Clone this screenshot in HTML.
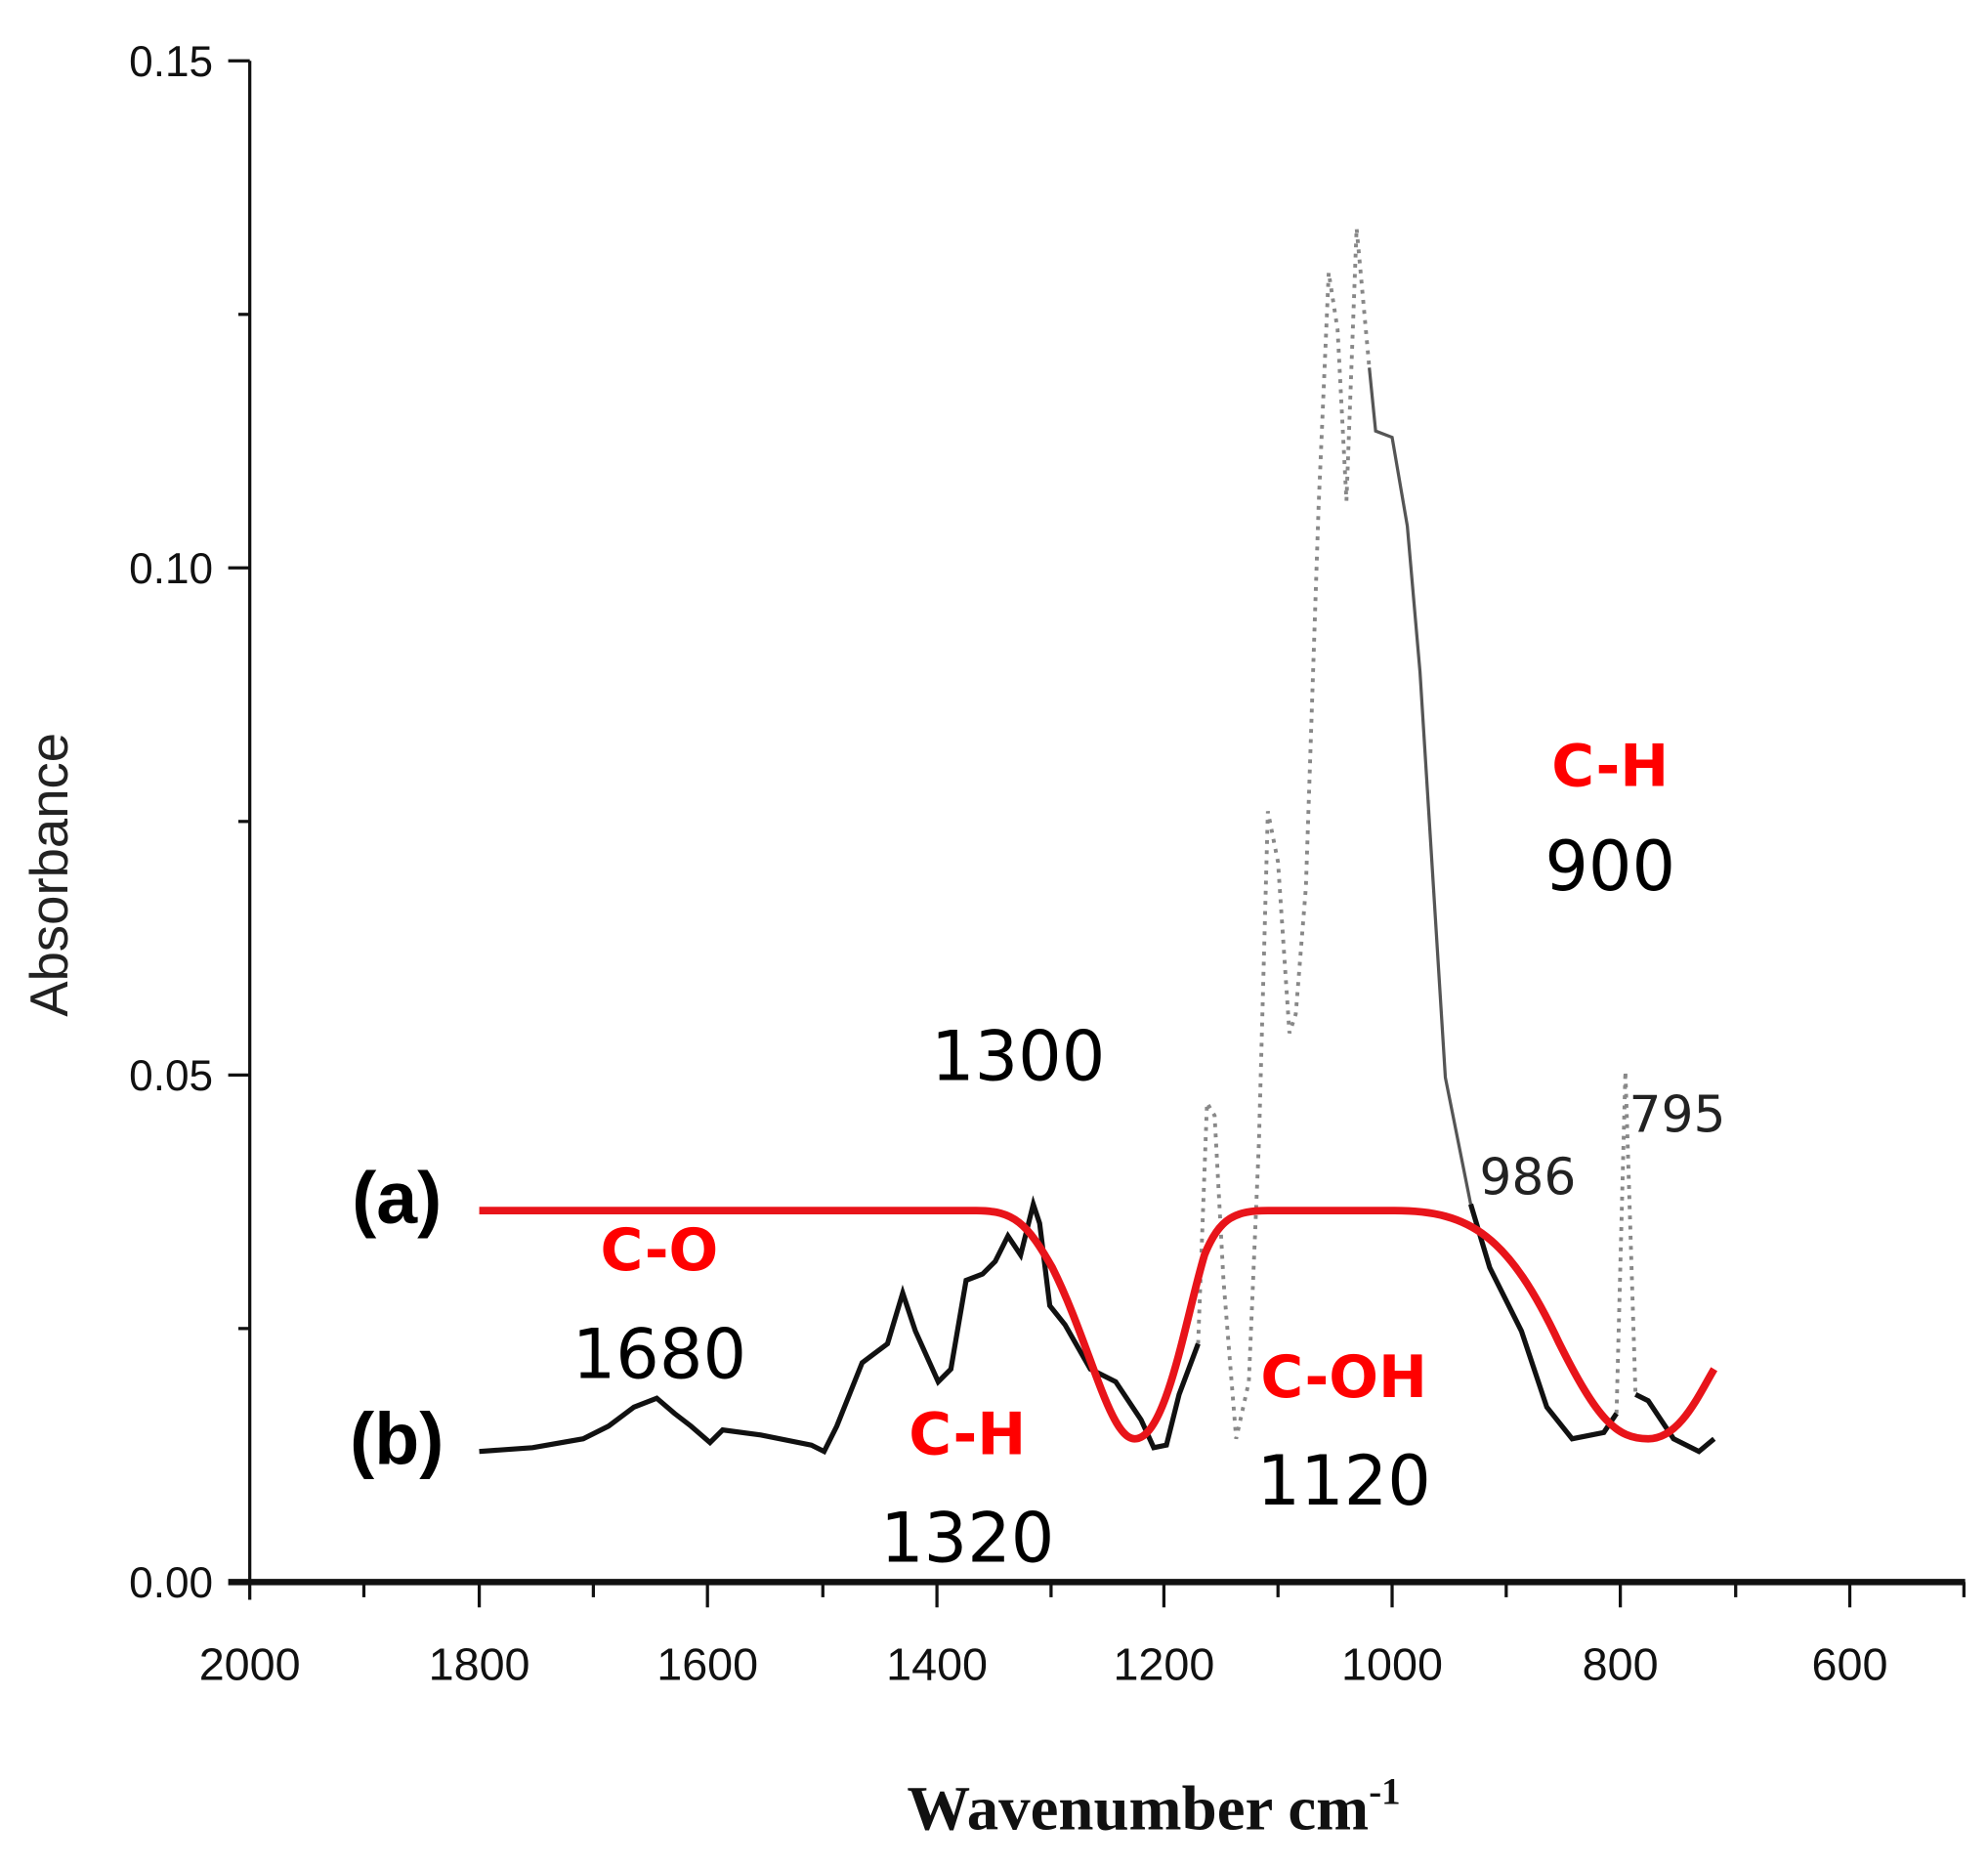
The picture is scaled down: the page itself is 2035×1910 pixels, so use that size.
<!DOCTYPE html>
<html><head><meta charset="utf-8"><style>html,body{margin:0;padding:0;background:#fff}svg{display:block}</style></head>
<body>
<svg width="2035" height="1910" viewBox="0 0 1568 1472" preserveAspectRatio="none" xmlns="http://www.w3.org/2000/svg">
<rect width="1568" height="1472" fill="#fff"/>
<g stroke="#111" stroke-width="2.5" fill="none">
<line x1="197" y1="48" x2="197" y2="1262"/>
<line x1="180" y1="1248" x2="1550" y2="1248" stroke-width="5"/>
<line x1="180" y1="48" x2="197" y2="48"/>
<line x1="188" y1="248" x2="197" y2="248"/>
<line x1="180" y1="448" x2="197" y2="448"/>
<line x1="188" y1="648" x2="197" y2="648"/>
<line x1="180" y1="848" x2="197" y2="848"/>
<line x1="188" y1="1048" x2="197" y2="1048"/>
<line x1="378" y1="1248" x2="378" y2="1268"/><line x1="558" y1="1248" x2="558" y2="1268"/>
<line x1="739" y1="1248" x2="739" y2="1268"/><line x1="918" y1="1248" x2="918" y2="1268"/>
<line x1="1098" y1="1248" x2="1098" y2="1268"/><line x1="1278" y1="1248" x2="1278" y2="1268"/>
<line x1="1459" y1="1248" x2="1459" y2="1268"/>
<line x1="287" y1="1248" x2="287" y2="1260"/><line x1="468" y1="1248" x2="468" y2="1260"/>
<line x1="649" y1="1248" x2="649" y2="1260"/><line x1="829" y1="1248" x2="829" y2="1260"/>
<line x1="1008" y1="1248" x2="1008" y2="1260"/><line x1="1188" y1="1248" x2="1188" y2="1260"/>
<line x1="1369" y1="1248" x2="1369" y2="1260"/><line x1="1549" y1="1248" x2="1549" y2="1260"/>
</g>
<g font-family="Liberation Sans, sans-serif" font-size="34" fill="#111" text-anchor="end">
<text x="168" y="60">0.15</text>
<text x="168" y="460">0.10</text>
<text x="168" y="860">0.05</text>
<text x="168" y="1260">0.00</text>
</g>
<g font-family="Liberation Sans, sans-serif" font-size="36" fill="#111" text-anchor="middle">
<text x="197" y="1325">2000</text><text x="378" y="1325">1800</text><text x="558" y="1325">1600</text>
<text x="739" y="1325">1400</text><text x="918" y="1325">1200</text><text x="1098" y="1325">1000</text>
<text x="1278" y="1325">800</text><text x="1459" y="1325">600</text>
</g>
<text transform="translate(53,690) rotate(-90)" font-family="Liberation Sans, sans-serif" font-size="42" fill="#222" text-anchor="middle">Absorbance</text>
<text x="910" y="1443" font-family="Liberation Serif, serif" font-weight="bold" font-size="50" fill="#111" text-anchor="middle">Wavenumber cm<tspan font-size="30" dy="-20">-1</tspan></text>
<path d="M945,1060 L952,870 L958,880 L965,1010 L975,1135 L985,1090 L993,900 L1000,640 L1008,680 L1017,815 L1022,800 L1030,700 L1040,400 L1048,215 L1055,260 L1062,395 L1070,180 L1080,290 M1275,1115 L1282,845 L1290,1100" fill="none" stroke="#888" stroke-width="3" stroke-dasharray="3,5"/>
<path d="M1080,290 L1085,340 L1098,345 L1110,415 L1120,530 L1140,850 L1160,950" fill="none" stroke="#555" stroke-width="2.5"/>
<path d="M378,1145 L420,1142 L460,1135 L480,1125 L500,1110 L518,1103 L532,1115 L545,1125 L560,1138 L570,1128 L600,1132 L640,1140 L650,1145 L660,1125 L670,1100 L680,1075 L700,1060 L712,1020 L722,1050 L740,1090 L750,1080 L762,1010 L775,1005 L785,995 L795,975 L805,990 L815,950 L820,965 L828,1030 L840,1045 L860,1080 L880,1090 L900,1120 L910,1142 L920,1140 L930,1100 L945,1060 M1160,950 L1175,1000 L1200,1050 L1220,1110 L1240,1135 L1265,1130 L1275,1115 M1290,1100 L1300,1105 L1320,1135 L1340,1145 L1352,1135" fill="none" stroke="#111" stroke-width="4"/>
<path d="M378,955 L770,955 C800,955 810,965 830,1000 C860,1060 875,1135 895,1135 C920,1135 935,1040 950,990 C962,960 975,955 1000,955 L1100,955 C1160,955 1190,975 1230,1060 C1260,1120 1275,1135 1300,1135 C1325,1135 1340,1100 1352,1080" fill="none" stroke="#e8141a" stroke-width="6"/>
<g font-family="Liberation Sans, DejaVu Sans, sans-serif" font-weight="bold" font-size="58" fill="#000" text-anchor="middle">
<text x="313" y="965">(a)</text><text x="313" y="1155">(b)</text>
</g>
<g font-family="DejaVu Sans, Liberation Sans, sans-serif" font-weight="bold" font-size="46" fill="#f00" text-anchor="middle">
<text x="520" y="1002">C-O</text><text x="763" y="1147">C-H</text><text x="1060" y="1102">C-OH</text><text x="1270" y="620">C-H</text>
</g>
<g font-family="DejaVu Sans, Liberation Sans, sans-serif" font-size="54" fill="#000" text-anchor="middle">
<text x="520" y="1087">1680</text><text x="763" y="1232">1320</text><text x="803" y="852">1300</text>
<text x="1060" y="1187">1120</text><text x="1270" y="702">900</text>
</g>
<g font-family="DejaVu Sans, Liberation Sans, sans-serif" font-size="40" fill="#222" text-anchor="middle">
<text x="1205" y="942">986</text><text x="1323" y="893">795</text>
</g>
</svg>
</body></html>
